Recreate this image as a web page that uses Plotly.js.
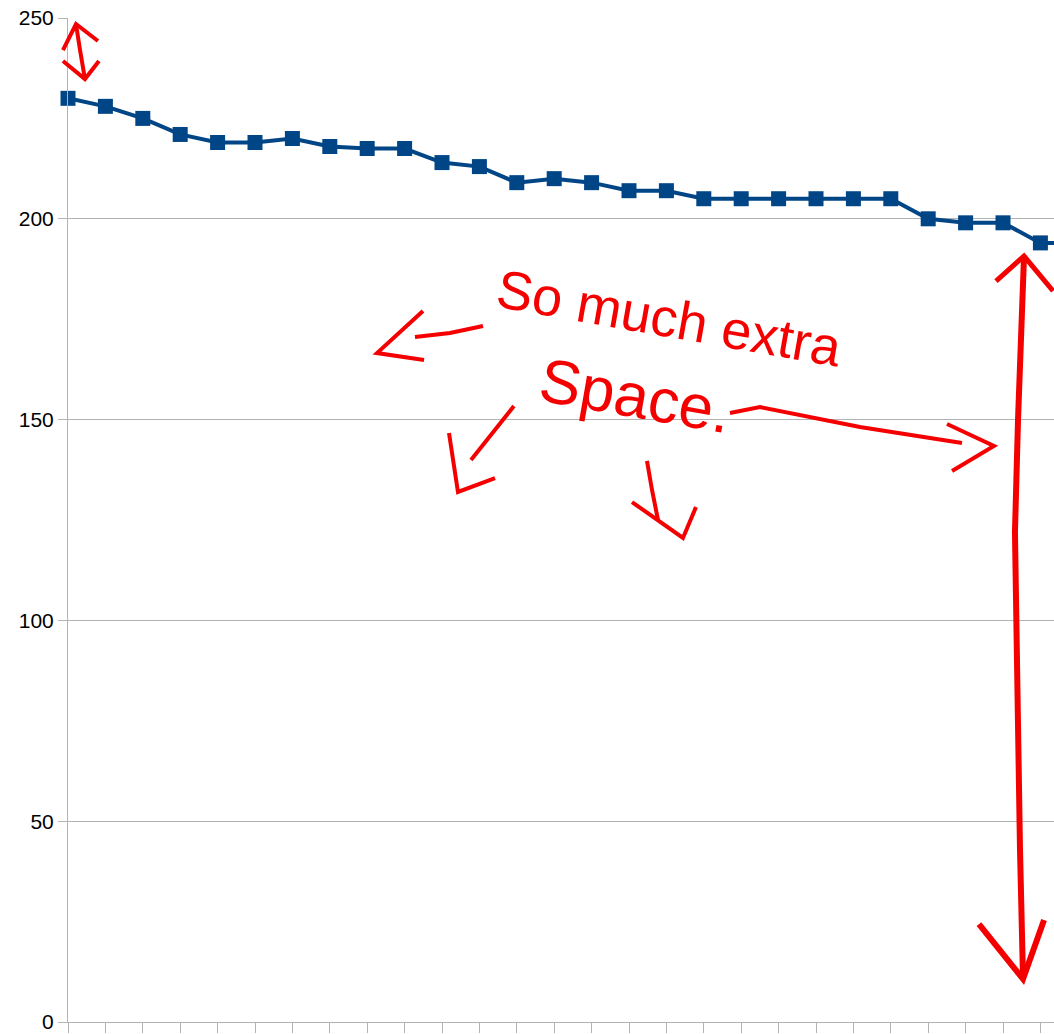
<!DOCTYPE html>
<html>
<head>
<meta charset="utf-8">
<script src="https://cdn.plot.ly/plotly-3.0.1.min.js"></script>
<style>
  html, body { margin: 0; padding: 0; background: #fff; }
  #chart { width: 1054px; height: 1034px; }
</style>
</head>
<body>
<div id="chart"></div>
<script>
// sample index along the x axis (the chart is cropped after the 27th point)
const sampleNo = [0, 1, 2, 3, 4, 5, 6, 7, 8, 9, 10, 11, 12, 13, 14, 15, 16, 17, 18, 19, 20, 21, 22, 23, 24, 25, 26, 27];
const values = [230, 228, 225, 221, 219, 219, 220, 218, 217.5, 217.5, 214, 213, 209, 210, 209, 207, 207,
                205, 205, 205, 205, 205, 205, 200, 199, 199, 194, 194];
const yTicks = [0, 50, 100, 150, 200, 250];
const noteLine1 = 'So much extra';
const noteLine2 = 'Space.';

const W = 1054, H = 1034;
const M = { l: 68, r: 0, t: 18, b: 12 };
const red = 'rgb(245,0,0)';
const grid = '#b3b3b3';

// pixel position in the picture -> paper coords
function px(x, y) {
    const pw = W - M.l - M.r, ph = H - M.t - M.b;
    return [((x - M.l) / pw).toFixed(4), ((H - M.b - y) / ph).toFixed(4)];
}

function stroke(points, width) {
    const d = points.map((p, i) => (i ? 'L' : 'M') + px(p[0], p[1]).join(',')).join(' ');
    return { type: 'path', xref: 'paper', yref: 'paper', path: d, line: { color: red, width: width } };
}

// hand drawn arrows
const arrows = [
    [[[76, 24], [80, 50], [85, 79]], 4],
    [[[63, 50], [76, 24], [98, 41]], 4],
    [[[63, 61], [85, 79], [99, 61]], 4],
    [[[483, 326], [450, 333], [415, 337]], 4],
    [[[423, 311], [377, 353], [424, 360]], 4],
    [[[514, 406], [471, 460]], 4],
    [[[449, 433], [458, 492], [495, 478]], 4],
    [[[647, 461], [652, 490], [658, 520]], 4],
    [[[632, 502], [683, 538], [696, 507]], 4],
    [[[730, 413], [760, 407], [860, 427], [962, 443]], 4],
    [[[947, 424], [994, 446], [952, 471]], 4],
    [[[1024, 256], [1018, 420], [1015, 532], [1020, 849], [1023, 979]], 6],
    [[[996, 281], [1024, 256], [1053, 291]], 5],
    [[[979, 924], [1023, 979], [1044, 920]], 6]
];
const shapes = arrows.map(a => stroke(a[0], a[1]));

const p1 = px(670, 318), p2 = px(635, 395);
const annotations = [
    { xref: 'paper', yref: 'paper', x: p1[0], y: p1[1], xanchor: 'center', yanchor: 'middle',
      text: noteLine1, showarrow: false, textangle: 10,
      font: { family: 'Liberation Sans', size: 54, color: red } },
    { xref: 'paper', yref: 'paper', x: p2[0], y: p2[1], xanchor: 'center', yanchor: 'middle',
      text: noteLine2, showarrow: false, textangle: 10,
      font: { family: 'Liberation Sans', size: 62, color: red } }
];

const trace = {
    type: 'scatter', mode: 'lines+markers',
    x: sampleNo, y: values,
    line: { color: '#004586', width: 4 },
    marker: { symbol: 'square', size: 15, color: '#004586' },
    cliponaxis: false
};

const layout = {
    width: W, height: H,
    margin: M,
    paper_bgcolor: '#fff', plot_bgcolor: '#fff',
    showlegend: false,
    font: { family: 'Liberation Sans', size: 21, color: '#000' },
    xaxis: {
        range: [0, (W - M.l) / 37.4], tickmode: 'linear', tick0: 0, dtick: 1,
        showticklabels: false, ticks: 'outside', ticklen: 10, tickcolor: grid,
        showgrid: false, zeroline: false, showline: true, linecolor: grid, linewidth: 1
    },
    yaxis: {
        range: [0, 250], tickvals: yTicks, ticks: 'outside', ticklen: 9, tickcolor: grid,
        showgrid: true, gridcolor: grid, gridwidth: 1, zeroline: false,
        showline: true, linecolor: grid, linewidth: 1,
        tickfont: { family: 'Liberation Sans', size: 21, color: '#000' }
    },
    shapes: shapes,
    annotations: annotations
};

Plotly.newPlot('chart', [trace], layout, { displayModeBar: false, staticPlot: true });
</script>
</body>
</html>
